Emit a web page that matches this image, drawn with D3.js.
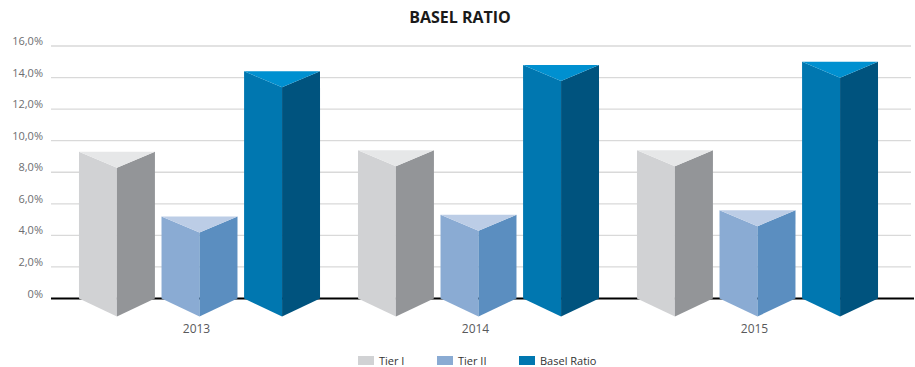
<!DOCTYPE html>
<html>
<head>
<meta charset="utf-8">
<script src="https://cdnjs.cloudflare.com/ajax/libs/d3/7.8.5/d3.min.js"></script>
<style>
  body { margin: 0; background: #fff; }
  svg text { font-family: "Open Sans", "Noto Sans", sans-serif; }
</style>
</head>
<body>
<div class="C"></div>
<script>
// data
var years = ['2013', '2014', '2015'];
var series = ['Tier I', 'Tier II', 'Basel Ratio'];
var tierI = [9.3, 9.4, 9.4];
var tierII = [5.2, 5.3, 5.6];
var baselRatio = [14.4, 14.8, 15.0];
var yTicks = [0, 2, 4, 6, 8, 10, 12, 14, 16];

var values = [tierI, tierII, baselRatio];
// face colours: left, right, top
var faces = [
    ['#d1d2d4', '#939598', '#e6e7e8'],
    ['#8aabd3', '#5b8ec0', '#bccde6'],
    ['#0077b0', '#00537e', '#0090d0']
];

var width = 915, height = 367;
var svg = d3.select('.C').append('svg').attr('width', width).attr('height', height);

var y = d3.scaleLinear().domain([0, 16]).range([298.5, 46]);
var x0 = d3.scaleBand().domain(years).range([60, 897]).paddingInner(0.136).paddingOuter(0.068);
var x1 = d3.scaleBand().domain(series).range([0, x0.bandwidth()]).paddingInner(0.08);

svg.append('text').text('BASEL RATIO')
    .attr('x', 460).attr('y', 23)
    .attr('text-anchor', 'middle')
    .style('font-size', '16px').style('font-weight', 'bold').style('fill', '#1a1a1a');

// grid
var grid = svg.append('g');
grid.selectAll('line').data(yTicks.filter(function (d) { return d > 0; }))
    .enter().append('line')
    .attr('x1', 51).attr('x2', 911)
    .attr('y1', function (d) { return y(d); }).attr('y2', function (d) { return y(d); })
    .style('stroke', '#d9d9d9').style('stroke-width', 1.3);

svg.append('g').selectAll('text').data(yTicks)
    .enter().append('text')
    .attr('x', 43).attr('y', function (d) { return y(d) - 1; })
    .attr('text-anchor', 'end')
    .style('font-size', '11px').style('fill', '#6d6e71')
    .text(function (d) { return d === 0 ? '0%' : d.toFixed(1).replace('.', ',') + '%'; });

var drop = 16, base = y(0);

var bars = svg.append('g');
years.forEach(function (yr, i) {
    series.forEach(function (s, j) {
        var v = values[j][i];
        var l = x0(yr) + x1(s), r = l + x1.bandwidth(), m = (l + r) / 2;
        var t = y(v);
        var g = bars.append('g');
        g.append('polygon')
            .attr('points', [[l, t], [m, t + drop], [m, base + 18], [l, base]].join(' '))
            .style('fill', faces[j][0]);
        g.append('polygon')
            .attr('points', [[m, t + drop], [r, t], [r, base], [m, base + 18]].join(' '))
            .style('fill', faces[j][1]);
        g.append('polygon')
            .attr('points', [[l, t], [r, t], [m, t + drop]].join(' '))
            .style('fill', faces[j][2]);
    });
});

// baseline drawn behind the bar bottoms
svg.insert('line', 'g:last-of-type')
    .attr('x1', 51).attr('x2', 914).attr('y1', base).attr('y2', base)
    .style('stroke', '#000').style('stroke-width', 2);

svg.append('g').selectAll('text').data(years)
    .enter().append('text')
    .attr('x', function (d) { return x0(d) + x0.bandwidth() / 2 - 3; })
    .attr('y', 333)
    .attr('text-anchor', 'middle')
    .style('font-size', '12px').style('fill', '#58595b')
    .text(function (d) { return d; });

// legend
var legX = [358, 437, 519];
var leg = svg.append('g');
series.forEach(function (s, j) {
    leg.append('rect').attr('x', legX[j]).attr('y', 356).attr('width', 16).attr('height', 9)
        .style('fill', faces[j][0]);
    leg.append('text').attr('x', legX[j] + 21).attr('y', 364.5)
        .style('font-size', '11px').style('fill', '#333')
        .text(s);
});
</script>
</body>
</html>
